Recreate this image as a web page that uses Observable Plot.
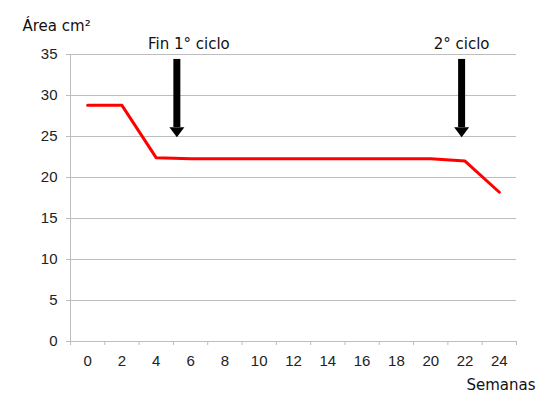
<!DOCTYPE html>
<html><head><meta charset="utf-8">
<script src="https://cdn.jsdelivr.net/npm/d3@7"></script>
<script src="https://cdn.jsdelivr.net/npm/@observablehq/plot@0.6"></script>
<style>body{margin:0;background:#fff;} svg{display:block;}</style>
</head><body>
<div id="chart"></div>
<script>
const semanas = [0, 2, 4, 6, 8, 10, 12, 14, 16, 18, 20, 22, 24];
const area = [28.8, 28.8, 22.4, 22.3, 22.3, 22.3, 22.3, 22.3, 22.3, 22.3, 22.3, 22.0, 18.2];
const yTicks = [0, 5, 10, 15, 20, 25, 30, 35];
const xBoundaries = [-1, 1, 3, 5, 7, 9, 11, 13, 15, 17, 19, 21, 23, 25];
const arrowLabels = ["Fin 1° ciclo", "2° ciclo"];
const arrowX = [5.2, 21.8];
const labelX = [5.9, 21.8];
const arrowTop = 34.4;
const arrowTip = 24.9;
const labelY = 36.2;

const data = semanas.map((s, i) => ({semana: s, area: area[i]}));
const arrows = arrowX.map((x, i) => ({x, lx: labelX[i], label: arrowLabels[i], top: arrowTop, tip: arrowTip}));

const headSymbol = {
  draw(context) {
    context.moveTo(-7.5, -10);
    context.lineTo(7.5, -10);
    context.lineTo(0, 0);
    context.closePath();
  }
};

const grey = "#bdbdbd";
const annoFont = "'DejaVu Sans', Verdana, sans-serif";
const chart = Plot.plot({
  width: 551,
  height: 405,
  marginLeft: 70,
  marginRight: 35,
  marginTop: 54,
  marginBottom: 64,
  style: {fontFamily: "'Liberation Sans', Arial, sans-serif", fontSize: "15px", color: "#222", background: "#fff"},
  x: {domain: [-1, 25], label: null},
  y: {domain: [0, 35], label: null},
  marks: [
    Plot.ruleY(yTicks.filter(d => d > 0), {stroke: grey, strokeWidth: 1}),
    Plot.axisY({ticks: yTicks, tickSize: 4, tickPadding: 9, stroke: grey, label: null, fontSize: 15, fill: "#222"}),
    Plot.axisX({ticks: semanas, tickSize: 0, tickPadding: 14, label: null, fontSize: 15, fill: "#222"}),
    Plot.axisX({ticks: xBoundaries, tickSize: 4, tickFormat: () => "", stroke: grey, label: null}),
    Plot.ruleY([0], {stroke: grey}),
    Plot.ruleX([-1], {stroke: grey}),
    Plot.line(data, {x: "semana", y: "area", stroke: "#ff0000", strokeWidth: 3}),
    Plot.ruleX(arrows, {x: "x", y1: "top", y2: d => d.tip + 1.2, stroke: "#000", strokeWidth: 7}),
    Plot.dot(arrows, {x: "x", y: "tip", symbol: headSymbol, fill: "#000", stroke: null, r: 5}),
    Plot.text(arrows, {x: "lx", y: labelY, text: "label", fontFamily: annoFont, fontSize: 15, fill: "#111"}),
    Plot.text(["Área cm²"], {frameAnchor: "top-left", dx: -48, dy: -34, textAnchor: "start", fontFamily: annoFont, fontSize: 15, fill: "#111"}),
    Plot.text(["Semanas"], {frameAnchor: "bottom-right", dx: 19, dy: 48, textAnchor: "end", fontFamily: annoFont, fontSize: 15, fill: "#111"})
  ]
});
document.getElementById("chart").appendChild(chart);
</script>
</body></html>
